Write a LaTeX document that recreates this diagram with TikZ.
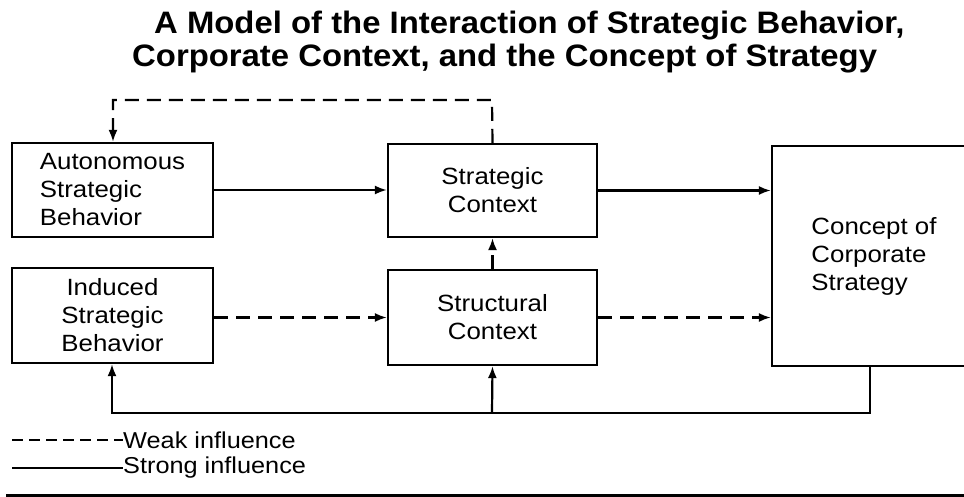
\documentclass[tikz,border=0pt]{standalone}
\usepackage{fontspec}
\setmainfont{Liberation Sans}
\newfontfamily\widesans[FakeStretch=1.1]{Liberation Sans}
\newfontfamily\widetitle[FakeStretch=1.06]{Liberation Sans}
\usetikzlibrary{arrows.meta}
\tikzset{
  boxnode/.style={draw, line width=2.2pt, inner sep=0pt, font=\widesans\fontsize{23.5}{28}\selectfont},
  strong/.style={line width=2.2pt},
  weak/.style={line width=2.2pt, dash pattern=on 14pt off 8pt},
  tip/.style={-{Latex[length=12pt,width=9pt]}},
  legendtext/.style={anchor=west, inner sep=0pt, font=\widesans\fontsize{23}{26}\selectfont},
  titletext/.style={anchor=west, inner sep=0pt, font=\widetitle\bfseries\fontsize{31}{34}\selectfont}
}
\begin{document}
\begin{tikzpicture}[x=1pt,y=-1pt]
\useasboundingbox (0,0) rectangle (964,497);
\node[titletext] (t1) at (154,26) {A Model of the Interaction of Strategic Behavior,};
\node[titletext] (t2) at (132,59) {Corporate Context, and the Concept of Strategy};

\node[boxnode, minimum width=201pt, minimum height=94pt, align=left] (auto) at (112.5,190) {Autonomous\\Strategic\\Behavior};
\node[boxnode, minimum width=201pt, minimum height=95pt, align=center] (indu) at (112.5,315.5) {Induced\\Strategic\\Behavior};
\node[boxnode, minimum width=209pt, minimum height=93pt, align=center] (strat) at (492.5,190.5) {Strategic\\Context};
\node[boxnode, minimum width=209pt, minimum height=95pt, align=center] (struc) at (492.5,317.5) {Structural\\Context};
\node[boxnode, minimum width=204pt, minimum height=220pt, align=left] (conc) at (874,256) {Concept of\\Corporate\\Strategy};

% top dashed loop
\coordinate (lt) at (113,100);
\coordinate (rt) at (492,100);
\draw[weak, tip] (strat.north) -- (rt) -- (lt) -- (auto.north -| lt);
% strong arrows
\draw[strong, tip] (auto.east) -- (strat.west |- auto.east);
\draw[strong, tip] (strat.east) -- (conc.west |- strat.east);
% weak arrows
\draw[weak, tip] (indu.east |- struc.west) -- (struc.west);
\draw[weak, tip] (struc.east) -- (conc.west |- struc.east);
\draw[weak, tip] (struc.north) -- (strat.south);
% feedback
\coordinate (fr) at (870,413);
\coordinate (fl) at (112,413);
\coordinate (fm) at (492,413);
\draw[strong, tip] (conc.south -| fr) -- (fr) -- (fl) -- (indu.south -| fl);
\draw[strong, tip] (fm) -- (struc.south);

% legend
\coordinate (lw1) at (12,440);
\coordinate (lw2) at (123,440);
\coordinate (ls1) at (12,468);
\coordinate (ls2) at (123,468);
\draw[line width=2pt, dash pattern=on 11pt off 6pt] (lw1) -- (lw2);
\draw[line width=2pt] (ls1) -- (ls2);
\node[legendtext] (lwt) at (lw2) {Weak influence};
\node[legendtext] (lst) at (ls2) {Strong influence};
% bottom rule
\coordinate (b1) at (6,495);
\coordinate (b2) at (964,495);
\draw[line width=3pt] (b1) -- (b2);
\end{tikzpicture}
\end{document}
